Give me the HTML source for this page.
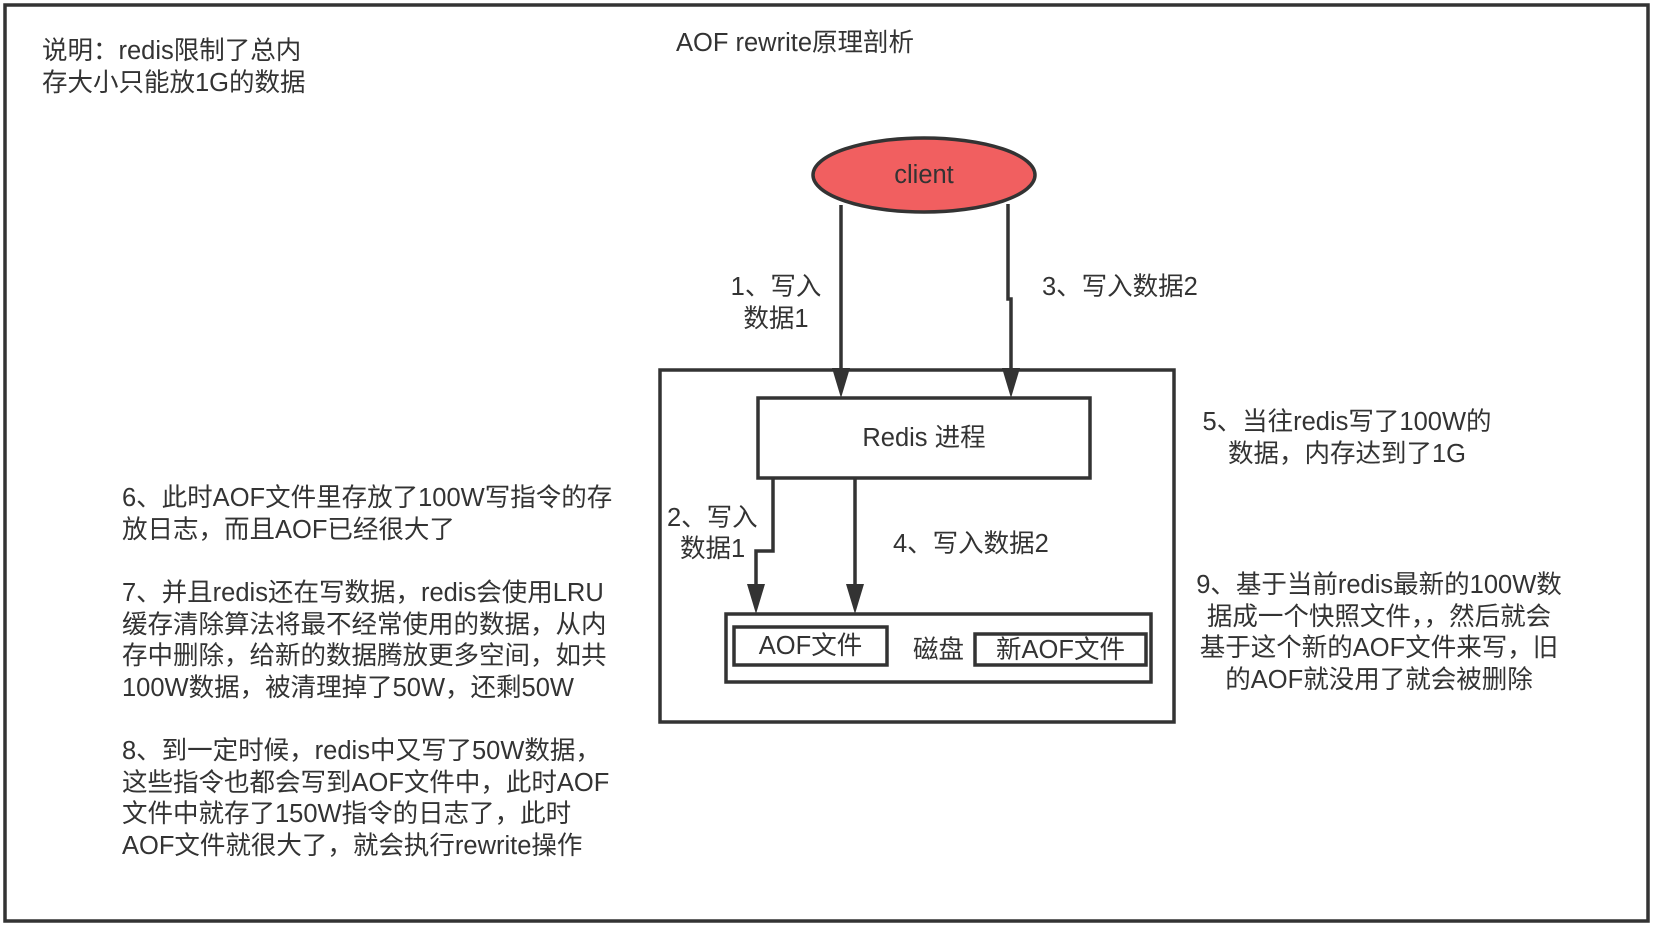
<!DOCTYPE html>
<html><head><meta charset="utf-8"><style>
body{margin:0;width:1656px;height:925px;background:#fff;position:relative;overflow:hidden;font-family:"Liberation Sans","Noto Sans CJK SC",sans-serif;color:#333;}
.t{position:absolute;font-size:25.5px;line-height:32px;white-space:nowrap;}
.c{text-align:center;}
</style></head><body>
<svg width="1656" height="925" style="position:absolute;left:0;top:0">
<g stroke="#333" stroke-width="3.5" fill="none">
<rect x="5" y="5" width="1643" height="916"/>
<rect x="660" y="370" width="514" height="352"/>
<rect x="758" y="398" width="332" height="80" fill="#fff"/>
<rect x="726" y="614" width="425" height="68"/>
<rect x="734" y="627" width="153" height="38"/>
<rect x="975" y="634" width="171" height="31"/>
<ellipse cx="924" cy="175" rx="111" ry="37" fill="#f15f60"/>
<path d="M841 205 V375"/>
<path d="M1008 204 V299 H1011 V375"/>
<path d="M773 478 V551 H756 V590"/>
<path d="M855 478 V590"/>
</g>
<g fill="#333">
<polygon points="832,368 850,368 841,398"/>
<polygon points="1002,368 1020,368 1011,398"/>
<polygon points="747,584 765,584 756,614"/>
<polygon points="846,584 864,584 855,614"/>
</g></svg>
<div class="t" style="left:676px;top:27px">AOF rewrite原理剖析</div>
<div class="t" style="left:42px;top:35px">说明：redis限制了总内<br>存大小只能放1G的数据</div>
<div class="t c" style="left:824px;top:159px;width:200px">client</div>
<div class="t c" style="left:726px;top:271px;width:100px">1、写入<br>数据1</div>
<div class="t" style="left:1042px;top:271px">3、写入数据2</div>
<div class="t c" style="left:774px;top:422px;width:300px">Redis 进程</div>
<div class="t" style="left:667px;top:502px">2、写入</div>
<div class="t" style="left:680px;top:533px">数据1</div>
<div class="t" style="left:893px;top:528px">4、写入数据2</div>
<div class="t c" style="left:734px;top:630px;width:153px">AOF文件</div>
<div class="t" style="left:913px;top:634px">磁盘</div>
<div class="t c" style="left:975px;top:634px;width:171px">新AOF文件</div>
<div class="t c" style="left:1147px;top:406px;width:400px;line-height:32px">5、当往redis写了100W的<br>数据，内存达到了1G</div>
<div class="t c" style="left:1179px;top:570px;width:400px;line-height:31.7px">9、基于当前redis最新的100W数<br>据成一个快照文件，，然后就会<br>基于这个新的AOF文件来写，旧<br>的AOF就没用了就会被删除</div>
<div class="t" style="left:122px;top:483px;line-height:31.7px">6、此时AOF文件里存放了100W写指令的存<br>放日志，而且AOF已经很大了</div>
<div class="t" style="left:122px;top:578px;line-height:31.7px">7、并且redis还在写数据，redis会使用LRU<br>缓存清除算法将最不经常使用的数据，从内<br>存中删除，给新的数据腾放更多空间，如共<br>100W数据，被清理掉了50W，还剩50W</div>
<div class="t" style="left:122px;top:736px;line-height:31.7px">8、到一定时候，redis中又写了50W数据，<br>这些指令也都会写到AOF文件中，此时AOF<br>文件中就存了150W指令的日志了，此时<br>AOF文件就很大了，就会执行rewrite操作</div>
</body></html>
